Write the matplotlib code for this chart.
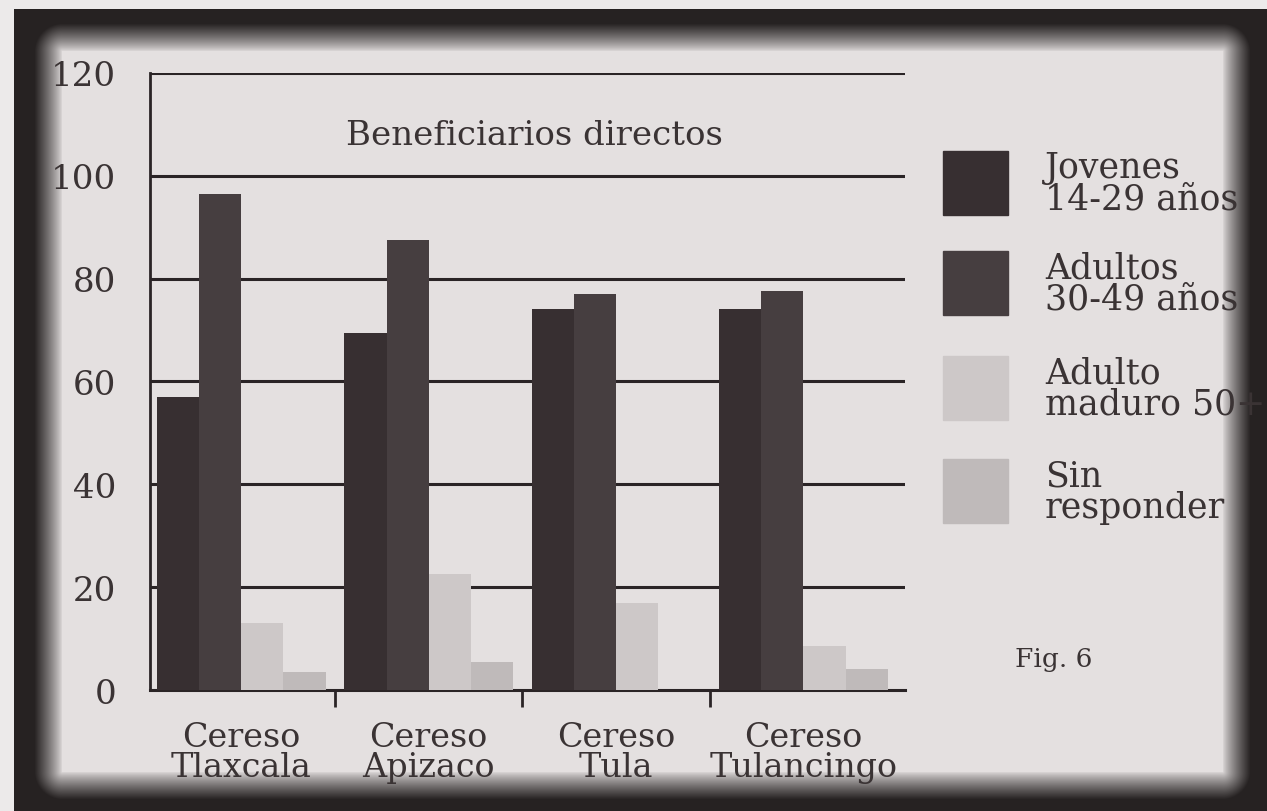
import numpy as np
import matplotlib

matplotlib.use("Agg")
import matplotlib.pyplot as plt
from matplotlib.patches import Rectangle

# ----- data -----
centros = ["Cereso\nTlaxcala", "Cereso\nApizaco", "Cereso\nTula", "Cereso\nTulancingo"]
jovenes = [57, 69.5, 74, 74]
adultos = [96.5, 87.5, 77, 77.5]
maduro = [13, 22.5, 17, 8.5]
sin_responder = [3.5, 5.5, 0, 4]

series_labels = ["Jovenes\n14-29 años", "Adultos\n30-49 años", "Adulto\nmaduro 50+", "Sin\nresponder"]
series_colors = ["#372f31", "#463e40", "#cdc8c8", "#bfbaba"]
y_ticks = [0, 20, 40, 60, 80, 100, 120]

text_color = "#3a3334"
font = "DejaVu Serif"

fig = plt.figure(figsize=(12.67, 8.12), dpi=100)

# ----- scanned-page background: light paper with dark vignette edge -----
bg = fig.add_axes([0, 0, 1, 1], zorder=-10)
H, W = 812, 1267
yy, xx = np.mgrid[0:H, 0:W]
x0, x1, y0, y1 = 62, 1222, 52, 772
dx = np.maximum(np.maximum(x0 - xx, xx - x1), 0)
dy = np.maximum(np.maximum(y0 - yy, yy - y1), 0)
d = np.sqrt(dx**2 + dy**2)
t = np.clip(d / 28.0, 0, 1) ** 0.8
inner = np.array([228, 224, 224]) / 255
outer = np.array([38, 34, 34]) / 255
img = inner[None, None, :] * (1 - t[..., None]) + outer[None, None, :] * t[..., None]
# bright strip of the scanner bed at the top and left edges
img[:10, :, :] = np.array([236, 234, 234]) / 255
img[:, :14, :] = np.array([236, 234, 234]) / 255
bg.imshow(img, aspect="auto", interpolation="bilinear")
bg.set_axis_off()

# ----- main chart -----
ax = fig.add_axes([0.118, 0.149, 0.596, 0.76])
ax.set_facecolor("none")
n = len(centros)
width = 0.225
xs = np.arange(n)
all_series = [jovenes, adultos, maduro, sin_responder]
for i, (vals, col) in enumerate(zip(all_series, series_colors)):
    ax.bar(xs + (i - 1.5) * width, vals, width=width, color=col, zorder=3, linewidth=0)

ax.set_xlim(-0.49, 3.54)
ax.set_ylim(0, 120)
ax.set_yticks(y_ticks)
ax.set_yticklabels([str(v) for v in y_ticks], fontsize=24.5, family=font, color=text_color)
ax.tick_params(axis="y", length=0, pad=24)
for v in y_ticks[1:]:
    ax.axhline(v, color="#2a2426", linewidth=2.2, zorder=1)

ax.set_xticks(xs)
ax.set_xticklabels(centros, fontsize=24, family=font, color=text_color, linespacing=0.95)
ax.tick_params(axis="x", length=0, pad=22)
ax.set_xticks([0.5, 1.5, 2.5], minor=True)
ax.tick_params(axis="x", which="minor", length=12, width=2, color="#2a2426", direction="out")

for s in ["top", "right"]:
    ax.spines[s].set_visible(False)
ax.spines["left"].set_color("#2a2426")
ax.spines["left"].set_linewidth(2)
ax.spines["bottom"].set_color("#2a2426")
ax.spines["bottom"].set_linewidth(2.2)

ax.text(0.26, 0.9, "Beneficiarios directos", transform=ax.transAxes, fontsize=24.5,
        family=font, color=text_color, va="center", ha="left")

# ----- legend drawn by hand to match the print layout -----
sq_x, sq_w, sq_h = 943, 65, 64
sq_tops = [152, 252, 357, 460]
for top, lab, col in zip(sq_tops, series_labels, series_colors):
    fig.add_artist(Rectangle((sq_x / W, 1 - (top + sq_h) / H), sq_w / W, sq_h / H,
                             transform=fig.transFigure, color=col, zorder=5))
    fig.text(1045 / W, 1 - (top + sq_h / 2) / H, lab, fontsize=25, family=font,
             color=text_color, va="center", ha="left", linespacing=0.92)

fig.text(1015 / W, 1 - 660 / H, "Fig. 6", fontsize=19, family=font, color=text_color,
         va="center", ha="left")

fig.savefig("out.png", dpi=100)
